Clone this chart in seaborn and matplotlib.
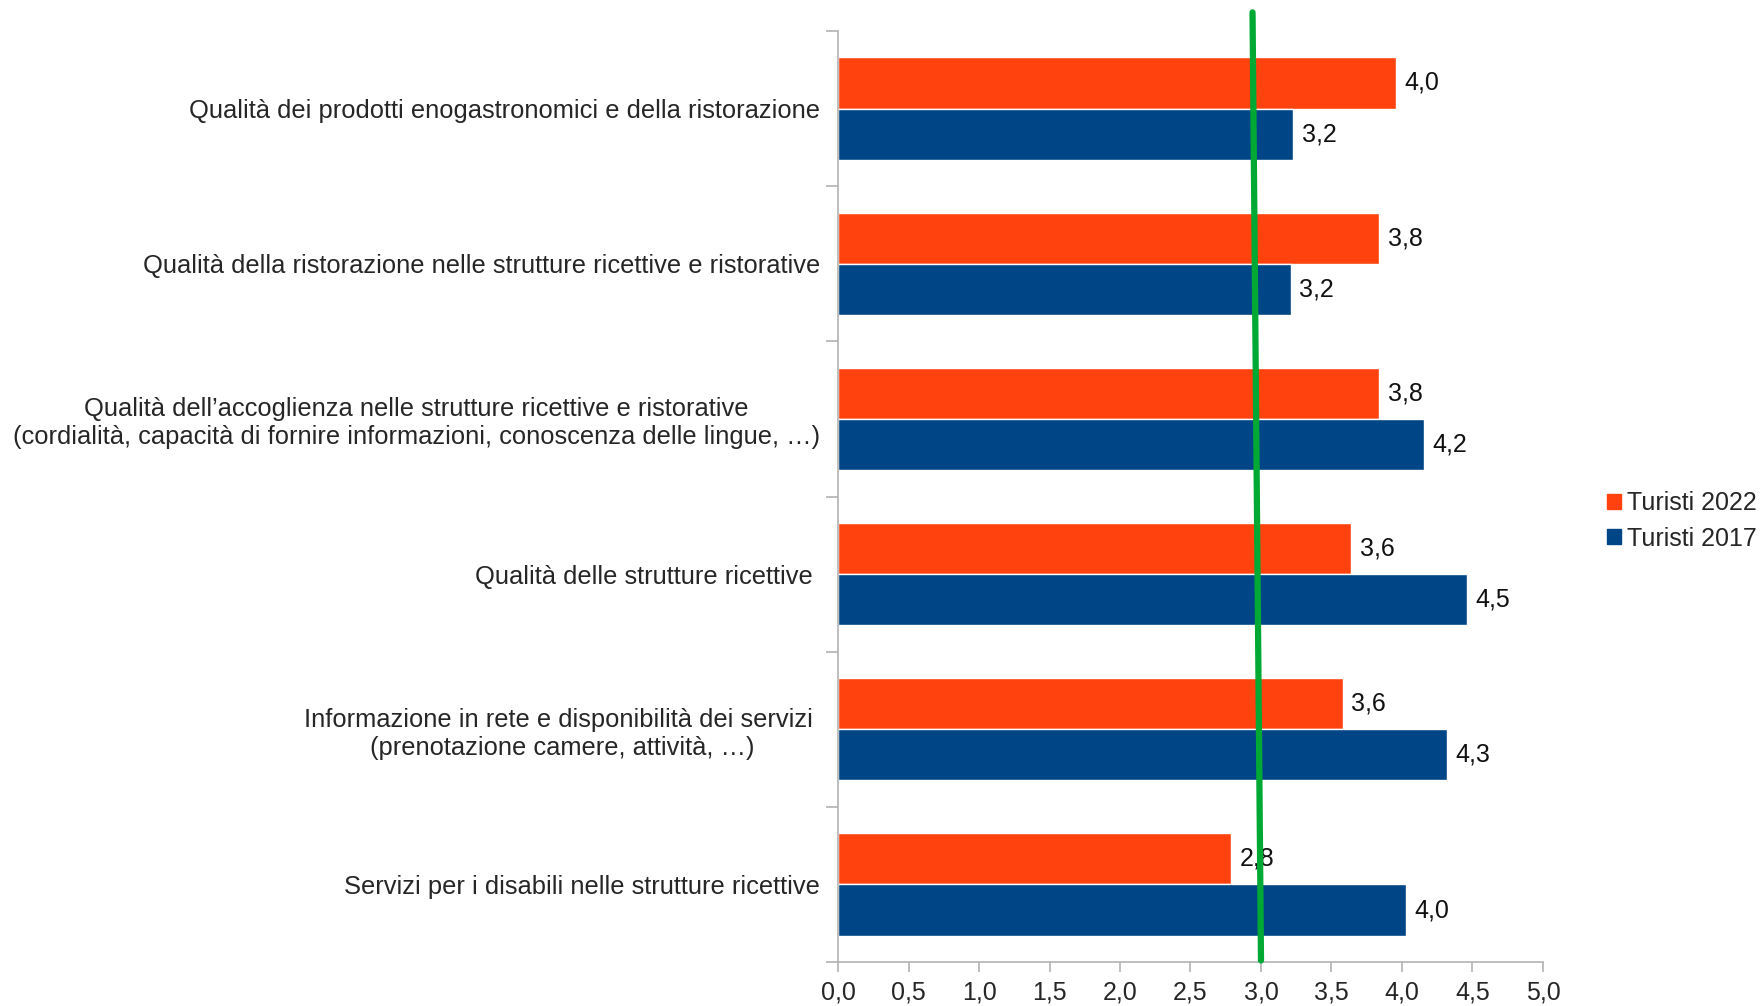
import numpy as np
import pandas as pd
import matplotlib
matplotlib.use('Agg')
import matplotlib.pyplot as plt
import seaborn as sns
from matplotlib.ticker import FixedLocator

sns.set_style('white')
plt.rcParams['font.family'] = ['Liberation Sans', 'DejaVu Sans']
plt.rcParams['font.size'] = 18

CATEGORIES = [
    'Qualità dei prodotti enogastronomici e della ristorazione',
    'Qualità della ristorazione nelle strutture ricettive e ristorative',
    'Qualità dell\u2019accoglienza nelle strutture ricettive e ristorative\n'
    '(cordialità, capacità di fornire informazioni, conoscenza delle lingue, \u2026)',
    'Qualità delle strutture ricettive ',
    'Informazione in rete e disponibilità dei servizi \n'
    '(prenotazione camere, attività, \u2026)',
    'Servizi per i disabili nelle strutture ricettive',
]
SERIES = ['Turisti 2022', 'Turisti 2017']
VALUES_2022 = [3.955, 3.84, 3.84, 3.64, 3.58, 2.79]
VALUES_2017 = [3.23, 3.21, 4.155, 4.46, 4.32, 4.03]
X_TICKS = [0.0, 0.5, 1.0, 1.5, 2.0, 2.5, 3.0, 3.5, 4.0, 4.5, 5.0]
COLORS = {'Turisti 2022': '#FF420E', 'Turisti 2017': '#004586'}

# reference line (slightly slanted in the original)
REF_X = [2.94, 3.0]
REF_Y = [-0.62, 5.49]

df = pd.DataFrame({
    'categoria': CATEGORIES * 2,
    'valore': VALUES_2022 + VALUES_2017,
    'serie': [SERIES[0]] * len(CATEGORIES) + [SERIES[1]] * len(CATEGORIES),
})

fig = plt.figure(figsize=(17.62, 10.06), dpi=100)
ax = fig.add_axes([0.4756, 0.0437, 0.4001, 0.9255])

sns.barplot(data=df, x='valore', y='categoria', hue='serie', order=CATEGORIES,
            hue_order=SERIES, palette=COLORS, orient='h', width=0.66,
            saturation=1, ax=ax, legend=False)

for container in ax.containers:
    labels = [f'{v:.1f}'.replace('.', ',') for v in container.datavalues]
    ax.bar_label(container, labels=labels, padding=6, fontsize=18, color='#111111')

ax.plot(REF_X, REF_Y, color='#00A933', lw=4.5, clip_on=False, zorder=5)

ax.set_xlim(0, 5)
ax.set_ylim(len(CATEGORIES) - 0.5, -0.5)
ax.set_xticks(X_TICKS)
ax.set_xticklabels([f'{v:.1f}'.replace('.', ',') for v in X_TICKS])
ax.tick_params(axis='x', length=7, width=1.2, color='#b3b3b3', direction='out',
               pad=6, labelsize=18, bottom=True)
ax.yaxis.set_minor_locator(FixedLocator(np.arange(-0.5, len(CATEGORIES), 1.0)))
ax.tick_params(axis='y', which='minor', length=9, width=1.2, color='#b3b3b3', left=True)
ax.tick_params(axis='y', which='major', length=0, pad=13, labelsize=18.4)
ax.set_yticks(range(len(CATEGORIES)))
ax.set_yticklabels(CATEGORIES, multialignment='center')
ax.set_xlabel('')
ax.set_ylabel('')

for side in ['top', 'right']:
    ax.spines[side].set_visible(False)
for side in ['left', 'bottom']:
    ax.spines[side].set_color('#b3b3b3')
    ax.spines[side].set_linewidth(1.2)

handles = [plt.Rectangle((0, 0), 1, 1, color=COLORS[s]) for s in SERIES]
fig.legend(handles, SERIES, loc='center left', bbox_to_anchor=(0.912, 0.482),
           frameon=False, fontsize=18, handlelength=0.55, handleheight=0.55,
           handletextpad=0.25, labelspacing=0.45, borderaxespad=0, borderpad=0)

fig.savefig('out.png', dpi=100, facecolor='white')
